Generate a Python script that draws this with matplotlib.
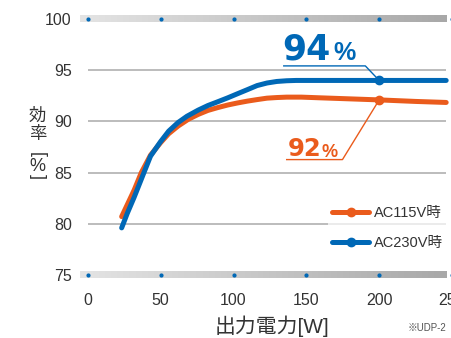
import numpy as np
import matplotlib.pyplot as plt
from matplotlib.colors import LinearSegmentedColormap

plt.rcParams['font.family'] = ['Liberation Sans', 'Noto Sans CJK JP', 'DejaVu Sans']

# efficiency curves (output power W -> efficiency %)
p_115 = [23.2, 27.5, 31.8, 36.7, 43, 49.8, 55.5, 62, 68.9, 75.7, 82.4, 89.2, 96, 102.7,
         109.5, 116.2, 123, 129.7, 136.5, 146.6, 160, 180, 200, 225, 246]
eff_115 = [80.7, 82.0, 83.3, 85.0, 86.7, 87.9, 88.8, 89.55, 90.2, 90.68, 91.07, 91.35, 91.6, 91.8,
           91.98, 92.13, 92.27, 92.33, 92.37, 92.37, 92.3, 92.2, 92.1, 91.95, 91.85]
p_230 = [23.2, 27, 31.8, 38.5, 43, 49.8, 55.5, 62, 68, 75.7, 82.4, 89.2, 96, 102.7,
         109.5, 116.2, 123, 129.7, 136.5, 143, 160, 180, 200, 225, 246]
eff_230 = [79.6, 81.0, 82.6, 85.0, 86.6, 88.0, 89.05, 89.9, 90.5, 91.1, 91.55, 91.92, 92.3, 92.7,
           93.1, 93.5, 93.75, 93.9, 93.97, 94.0, 94.0, 94.0, 94.0, 94.0, 94.0]

x_ticks = [0, 50, 100, 150, 200, 250]
y_ticks = [75, 80, 85, 90, 95, 100]
p_mark = 200
peak_115 = 92
peak_230 = 94

orange = '#ea5b1c'
blue = '#0068b6'
txt = '#333333'

fig = plt.figure(figsize=(4.52, 3.38), dpi=100)
ax = fig.add_axes([80 / 452, 0.1713, 372 / 452, 0.9589 - 0.1713])
ax.set_xlim(-5.4, 245.9)
ax.set_ylim(74.5, 100.5)

# gray gradient bands at top and bottom
grad = LinearSegmentedColormap.from_list('g', ['#e4e4e4', '#a8a8a8'])
g = np.linspace(0, 1, 256).reshape(1, -1)
for yb in (y_ticks[0], y_ticks[-1]):
    ax.imshow(g, cmap=grad, aspect='auto', extent=[-5.4, 245.9, yb - 0.34, yb + 0.34], zorder=1)
    ax.scatter(x_ticks, [yb] * len(x_ticks), s=4, color=blue, zorder=2, clip_on=False)

for yv in y_ticks[1:-1]:
    ax.hlines(yv, 0, 245.9, color='#b0b0b0', lw=1.2, zorder=1)

ax.plot(p_115, eff_115, color=orange, lw=3.6, solid_capstyle='round', solid_joinstyle='round',
        zorder=3, marker='o', markevery=[p_115.index(p_mark)], ms=6, label='AC115V時')
ax.plot(p_230, eff_230, color=blue, lw=3.6, solid_capstyle='round', solid_joinstyle='round',
        zorder=4, marker='o', markevery=[p_230.index(p_mark)], ms=6, label='AC230V時')

# leader lines and peak labels
ax.plot([134.5, 190.5, p_mark], [95.42, 95.42, eff_230[p_230.index(p_mark)]], color=blue, lw=1.0, zorder=5)
ax.text(133.5, 96.05, f'{peak_230}', color=blue, fontsize=25, fontweight='bold',
        family='DejaVu Sans', va='baseline', ha='left')
ax.text(168.6, 95.95, '%', color=blue, fontsize=18, fontweight='bold', va='baseline', ha='left')
ax.plot([136.5, 174.8, p_mark], [86.27, 86.27, eff_115[p_115.index(p_mark)]], color=orange, lw=1.0, zorder=5)
ax.text(137.0, 86.6, f'{peak_115}', color=orange, fontsize=17.5, fontweight='bold',
        family='DejaVu Sans', va='baseline', ha='left')
ax.text(160.3, 86.55, '%', color=orange, fontsize=13, fontweight='bold', va='baseline', ha='left')

ax.set_xticks(x_ticks)
ax.set_yticks(y_ticks)
ax.tick_params(length=0, labelsize=11.5, labelcolor=txt)
ax.tick_params(axis='x', pad=9)
ax.tick_params(axis='y', pad=6)
for s in ax.spines.values():
    s.set_visible(False)

leg = ax.legend(loc='upper left', bbox_to_anchor=(0.667, 0.295), fontsize=10.5, frameon=True,
                facecolor='white', framealpha=0.7, edgecolor='none', handlelength=2.5,
                handletextpad=0.35, labelspacing=1.1, borderpad=0.3, borderaxespad=0)
leg.get_frame().set_boxstyle('square', pad=0)
for t in leg.get_texts():
    t.set_color(txt)

# axis titles
fig.text(272 / 452, 1 - 326 / 338, '出力電力[W]', fontsize=15, color=txt, ha='center', va='center')
fig.text(408 / 452, 1 - 328 / 338, '※UDP-2', fontsize=7, color='#555555', ha='left', va='center')
yl = 37.5 / 452
fig.text(yl, 1 - 115.5 / 338, '効', fontsize=12.5, color=txt, ha='center', va='center')
fig.text(yl, 1 - 134.5 / 338, '率', fontsize=12.5, color=txt, ha='center', va='center')
fig.text(yl, 1 - 155 / 338, '[', fontsize=13, color=txt, ha='center', va='center', rotation=-90)
fig.text(yl, 1 - 166.5 / 338, '%', fontsize=13, color=txt, ha='center', va='center')
fig.text(yl, 1 - 177 / 338, ']', fontsize=13, color=txt, ha='center', va='center', rotation=-90)

fig.savefig('out.png', dpi=100)
